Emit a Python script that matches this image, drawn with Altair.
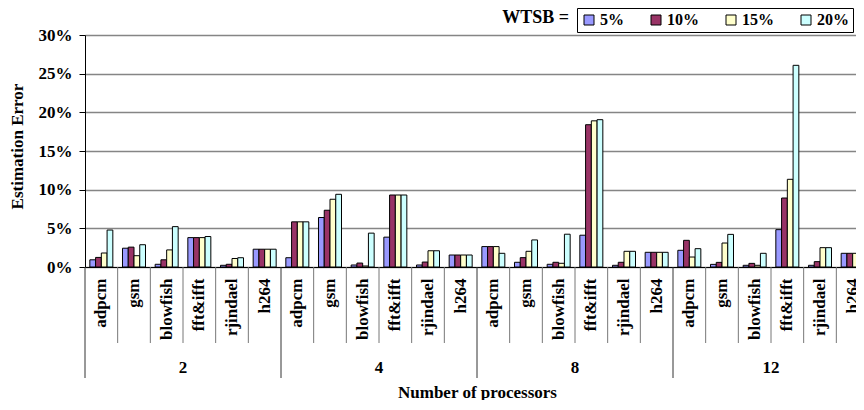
import altair as alt
import pandas as pd

groups = ["2", "4", "8", "12"]
benchmarks = ["adpcm", "gsm", "blowfish", "fft&ifft", "rjindael", "h264"]
series = ["5%", "10%", "15%", "20%"]
colors = ["#9999FF", "#993366", "#FFFFCC", "#CCFFFF"]

# values in percent, order: group 2, 4, 8, 12 x benchmarks
wtsb_5 = [0.93, 2.43, 0.35, 3.80, 0.22, 2.30,
          1.20, 6.40, 0.26, 3.86, 0.26, 1.55,
          2.64, 0.61, 0.35, 4.11, 0.22, 1.90,
          2.16, 0.34, 0.22, 4.83, 0.22, 1.77]
wtsb_10 = [1.24, 2.57, 0.93, 3.80, 0.35, 2.30,
           5.84, 7.34, 0.51, 9.31, 0.64, 1.55,
           2.64, 1.21, 0.61, 18.40, 0.61, 1.90,
           3.45, 0.60, 0.47, 8.92, 0.69, 1.77]
wtsb_15 = [1.81, 1.46, 2.21, 3.80, 1.10, 2.30,
           5.84, 8.76, 0.13, 9.31, 2.10, 1.55,
           2.64, 2.03, 0.48, 18.90, 2.03, 1.90,
           1.29, 3.10, 0.22, 11.34, 2.50, 1.77]
wtsb_20 = [4.78, 2.88, 5.22, 3.94, 1.20, 2.30,
           5.84, 9.40, 4.38, 9.31, 2.10, 1.55,
           1.77, 3.50, 4.24, 19.05, 2.03, 1.90,
           2.37, 4.22, 1.77, 26.08, 2.50, 1.77]

keys = [f"{g}|{b}" for g in groups for b in benchmarks]
rows = []
for i, k in enumerate(keys):
    for s, vals in zip(series, [wtsb_5, wtsb_10, wtsb_15, wtsb_20]):
        rows.append({"key": k, "series": s, "value": vals[i] / 100.0})
df = pd.DataFrame(rows)

group_starts = [f"{g}|{benchmarks[0]}" for g in groups]
inner_keys = [k for k in keys if k not in group_starts]
df_inner = pd.DataFrame({"key": inner_keys})
df_groupsep = pd.DataFrame({"key": group_starts})
df_glabel = pd.DataFrame({"key": [f"{g}|{benchmarks[3]}" for g in groups], "group": groups})

FONT = "Liberation Serif"
W, H = 771, 232
BAND_RANGE = 784

xscale = alt.Scale(domain=keys, range=[0, BAND_RANGE], paddingInner=0, paddingOuter=0)
x_axis = alt.Axis(
    title="Number of processors",
    labelExpr="split(datum.value, '|')[1]",
    labelAngle=-90, labelFont=FONT, labelFontSize=17, labelFontWeight="bold",
    labelColor="black", labelPadding=11, ticks=False, grid=False,
    domainColor="black", domainWidth=1,
    titleFont=FONT, titleFontSize=17, titleFontWeight="bold", titleColor="black",
    titleX=392, titleY=125, titleBaseline="middle", titleAlign="center",
)

y_axis = alt.Axis(
    title="Estimation Error", values=[0, 0.05, 0.10, 0.15, 0.20, 0.25, 0.30],
    format=".0%", labelFont=FONT, labelFontSize=17, labelFontWeight="bold",
    labelColor="black", labelPadding=7, tickSize=6, tickColor="black",
    domainColor="black", gridColor="#858585", gridWidth=1.6,
    titleFont=FONT, titleFontSize=17, titleFontWeight="bold", titleColor="black",
    titleX=-68, titleY=111, titleBaseline="middle", titleAlign="center",
)

bars = alt.Chart(df).mark_bar(stroke="black", strokeWidth=1).encode(
    x=alt.X("key:N", scale=xscale, axis=x_axis),
    xOffset=alt.XOffset("series:N", scale=alt.Scale(domain=series, paddingInner=0, paddingOuter=0.84)),
    y=alt.Y("value:Q", scale=alt.Scale(domain=[0, 0.30], nice=False), axis=y_axis),
    color=alt.Color(
        "series:N", scale=alt.Scale(domain=series, range=colors),
        legend=alt.Legend(
            orient="none", legendX=492, legendY=-27, direction="horizontal", columns=4,
            gridAlign="none", title=None, strokeColor="black", fillColor="white", padding=4,
            symbolType="square", symbolSize=100, symbolStrokeColor="black",
            symbolStrokeWidth=1, labelFont=FONT, labelFontSize=16,
            labelFontWeight="bold", labelColor="black", columnPadding=24, labelOffset=3,
        ),
    ),
)

inner_sep = alt.Chart(df_inner).mark_rule(color="#777777", strokeWidth=1).encode(
    x=alt.X("key:N", scale=xscale, axis=x_axis, bandPosition=0),
    y=alt.value(H), y2=alt.value(H + 76),
)
group_sep = alt.Chart(df_groupsep).mark_rule(color="#333333", strokeWidth=1).encode(
    x=alt.X("key:N", scale=xscale, axis=x_axis, bandPosition=0),
    y=alt.value(H), y2=alt.value(H + 111),
)
group_lbl = alt.Chart(df_glabel).mark_text(
    font=FONT, fontSize=17, fontWeight="bold", color="black", baseline="middle"
).encode(
    x=alt.X("key:N", scale=xscale, axis=x_axis, bandPosition=0),
    y=alt.value(H + 101),
    text="group:N",
)
wtsb = alt.Chart(pd.DataFrame({"a": [0]})).mark_text(
    text="WTSB =", font=FONT, fontSize=18, fontWeight="bold", color="black",
    align="right", baseline="middle"
).encode(x=alt.value(484), y=alt.value(-17))

chart = alt.layer(bars, inner_sep, group_sep, group_lbl, wtsb).properties(
    width=W, height=H,
    autosize=alt.AutoSizeParams(type="none"),
    padding={"left": 77, "top": 27, "right": 0, "bottom": 133},
).configure_view(stroke=None)

chart.save("out.html", embed_options={"renderer": "svg", "actions": False})
